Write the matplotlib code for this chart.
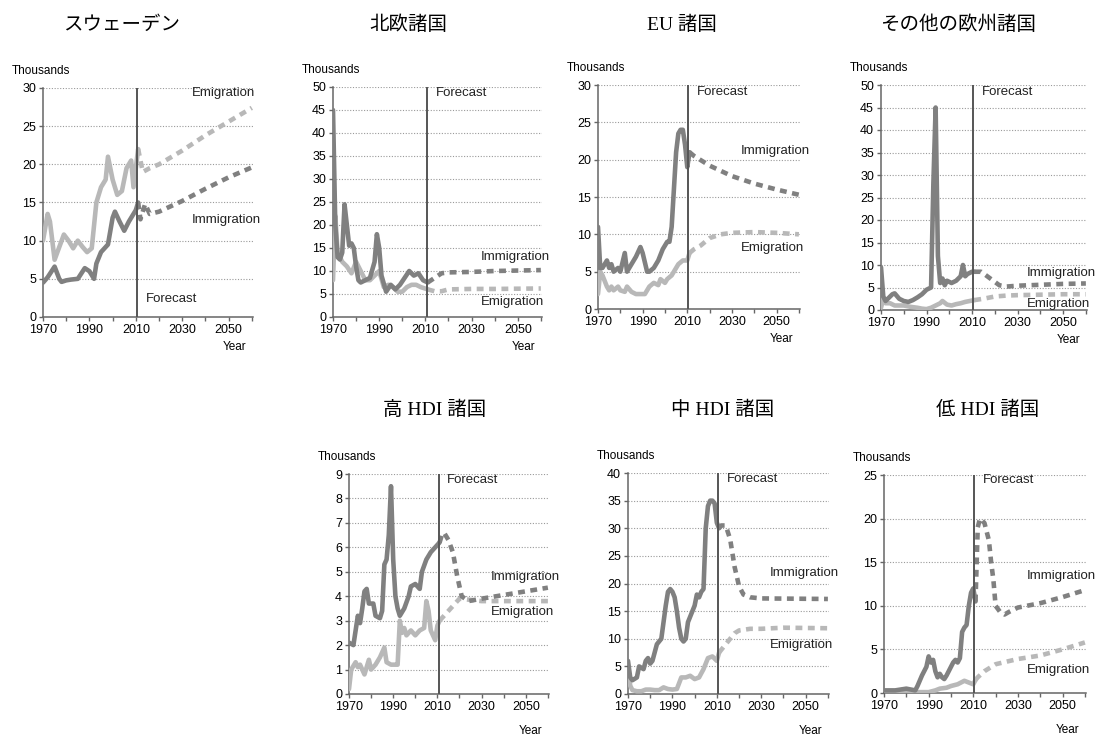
import numpy as np
import matplotlib
matplotlib.use("Agg")
import matplotlib.pyplot as plt

plt.rcParams['font.family'] = ['Liberation Sans', 'Noto Sans CJK JP']

# ---- data (thousands of persons) ----
# Sweden
swe_imm_hist_x = [1970, 1972, 1975, 1977, 1978, 1980, 1982, 1985, 1988, 1990, 1992, 1993, 1995, 1998, 2000, 2001, 2003, 2005, 2007, 2009, 2010, 2011]
swe_imm_hist_y = [4.5, 5.2, 6.6, 5.0, 4.6, 4.8, 4.9, 5.0, 6.4, 6.0, 5.0, 7.0, 8.5, 9.5, 13.0, 13.8, 12.5, 11.3, 12.5, 13.5, 14.0, 15.0]
swe_imm_fc_x = [2011, 2012, 2014, 2016, 2020, 2030, 2040, 2050, 2060]
swe_imm_fc_y = [15.0, 12.8, 14.8, 13.5, 13.8, 15.2, 16.8, 18.3, 19.6]
swe_emi_hist_x = [1970, 1972, 1973, 1975, 1979, 1981, 1983, 1985, 1987, 1989, 1991, 1993, 1995, 1997, 1998, 2000, 2002, 2004, 2006, 2008, 2009, 2011]
swe_emi_hist_y = [10.0, 13.5, 12.5, 7.5, 10.8, 10.0, 9.0, 10.0, 9.2, 8.5, 9.0, 15.0, 17.0, 18.0, 21.0, 18.0, 16.0, 16.5, 19.5, 20.5, 17.0, 22.0]
swe_emi_fc_x = [2011, 2013, 2016, 2020, 2030, 2040, 2050, 2060]
swe_emi_fc_y = [22.0, 19.0, 19.5, 20.0, 21.8, 23.8, 25.6, 27.4]

# Nordic countries
nor_imm_hist_x = [1970, 1971, 1972, 1973, 1974, 1975, 1976, 1977, 1978, 1979, 1980, 1981, 1982, 1984, 1986, 1988, 1989, 1990, 1991, 1993, 1995, 1997, 1999, 2001, 2003, 2005, 2007, 2009, 2011]
nor_imm_hist_y = [45, 20, 13, 12.5, 14, 24.5, 20, 15.5, 16, 15, 11, 8, 7.5, 8, 8.5, 12, 18, 15, 9, 5.5, 7, 6, 7, 8.5, 10, 9, 9.5, 8, 7.5]
nor_imm_fc_x = [2011, 2014, 2017, 2020, 2030, 2040, 2060]
nor_imm_fc_y = [7.5, 8.5, 9.5, 9.7, 9.8, 10.0, 10.2]
nor_emi_hist_x = [1970, 1971, 1972, 1974, 1976, 1978, 1980, 1982, 1984, 1986, 1988, 1990, 1992, 1994, 1996, 1998, 2000, 2002, 2004, 2006, 2008, 2011]
nor_emi_hist_y = [8, 22, 14, 12, 11, 9.5, 12, 10, 8, 8, 9, 10, 6.5, 7, 6.5, 5.5, 5.5, 6.5, 7, 7, 6.5, 6]
nor_emi_fc_x = [2011, 2014, 2017, 2020, 2030, 2040, 2060]
nor_emi_fc_y = [6.0, 5.6, 5.6, 6.0, 6.1, 6.1, 6.2]

# EU countries
eu_imm_hist_x = [1970, 1971, 1972, 1973, 1974, 1975, 1976, 1977, 1979, 1980, 1982, 1983, 1985, 1987, 1989, 1990, 1992, 1993, 1995, 1997, 1999, 2000, 2001, 2002, 2003, 2004, 2005, 2006, 2007, 2008, 2009, 2010, 2011]
eu_imm_hist_y = [11, 5.5, 5.5, 6, 6.5, 5.5, 6, 5, 5.5, 5, 7.5, 5, 6, 7, 8.3, 7.5, 5, 5, 5.5, 6.5, 8, 8.5, 9, 9, 11, 16, 21, 23.5, 24, 24, 22, 19, 21]
eu_imm_fc_x = [2011, 2013, 2020, 2030, 2040, 2050, 2060]
eu_imm_fc_y = [21.0, 20.5, 19.2, 17.8, 16.8, 16.0, 15.3]
eu_emi_hist_x = [1970, 1971, 1972, 1974, 1975, 1976, 1977, 1979, 1980, 1982, 1983, 1985, 1987, 1989, 1991, 1993, 1995, 1997, 1998, 2000, 2001, 2003, 2004, 2006, 2008, 2010, 2011]
eu_emi_hist_y = [2, 5, 4.5, 3, 2.5, 3, 2.5, 3, 2.5, 2.3, 3, 2.3, 2, 2, 2, 3, 3.5, 3.2, 4, 3.5, 4, 4.5, 5, 6, 6.5, 6.5, 7.5]
eu_emi_fc_x = [2011, 2013, 2016, 2020, 2025, 2030, 2040, 2050, 2060]
eu_emi_fc_y = [7.5, 8.0, 8.5, 9.5, 10.0, 10.2, 10.3, 10.2, 10.0]

# Other European countries
oeu_imm_hist_x = [1970, 1971, 1972, 1973, 1975, 1976, 1978, 1980, 1982, 1984, 1986, 1988, 1990, 1992, 1993, 1994, 1995, 1996, 1997, 1998, 1999, 2001, 2003, 2005, 2006, 2007, 2008, 2010, 2011]
oeu_imm_hist_y = [9.5, 3, 2, 2.5, 3.5, 3.7, 2.5, 2, 1.8, 2.2, 2.8, 3.5, 4.5, 5, 28, 45, 12, 6, 7, 5.5, 6.5, 6, 6.5, 7.5, 10, 7.5, 8, 8.5, 8.5]
oeu_imm_fc_x = [2011, 2014, 2018, 2022, 2025, 2030, 2040, 2050, 2060]
oeu_imm_fc_y = [8.5, 8.5, 7.0, 5.5, 5.2, 5.4, 5.6, 5.8, 5.9]
oeu_emi_hist_x = [1970, 1971, 1972, 1974, 1976, 1978, 1980, 1983, 1986, 1988, 1990, 1992, 1994, 1996, 1997, 1999, 2001, 2003, 2005, 2007, 2009, 2011]
oeu_emi_hist_y = [0.5, 2.5, 1.5, 1.5, 1, 1, 1, 0.7, 0.5, 0.3, 0.2, 0.5, 1, 1.5, 2, 1.2, 1, 1.3, 1.5, 1.8, 2, 2.2]
oeu_emi_fc_x = [2011, 2015, 2020, 2025, 2030, 2040, 2050, 2060]
oeu_emi_fc_y = [2.2, 2.5, 3.0, 3.2, 3.3, 3.4, 3.5, 3.5]

# High HDI countries
hhd_imm_hist_x = [1970, 1972, 1974, 1975, 1976, 1977, 1978, 1979, 1981, 1982, 1984, 1985, 1986, 1987, 1988, 1989, 1990, 1991, 1992, 1993, 1995, 1997, 1998, 2000, 2002, 2003, 2005, 2007, 2009, 2011]
hhd_imm_hist_y = [2.1, 2.0, 3.2, 2.9, 3.5, 4.2, 4.3, 3.7, 3.7, 3.2, 3.1, 3.4, 5.3, 5.5, 6.5, 8.5, 5.5, 4.0, 3.5, 3.2, 3.5, 4.0, 4.4, 4.5, 4.3, 5.0, 5.5, 5.8, 6.0, 6.2]
hhd_imm_fc_x = [2011, 2012, 2013, 2015, 2017, 2019, 2021, 2024, 2030, 2040, 2050, 2060]
hhd_imm_fc_y = [6.2, 6.5, 6.6, 6.3, 5.8, 4.8, 4.0, 3.8, 3.9, 4.05, 4.2, 4.35]
hhd_emi_hist_x = [1970, 1971, 1973, 1974, 1975, 1977, 1979, 1980, 1982, 1984, 1986, 1987, 1989, 1991, 1992, 1993, 1994, 1995, 1996, 1998, 2000, 2002, 2004, 2005, 2006, 2007, 2009, 2010, 2011]
hhd_emi_hist_y = [0.2, 1.0, 1.3, 1.1, 1.2, 0.8, 1.4, 1.0, 1.2, 1.5, 1.9, 1.3, 1.2, 1.2, 1.2, 3.0, 2.5, 2.7, 2.4, 2.6, 2.4, 2.6, 2.7, 3.8, 3.4, 2.6, 2.2, 2.8, 3.0]
hhd_emi_fc_x = [2011, 2012, 2015, 2018, 2020, 2025, 2030, 2040, 2060]
hhd_emi_fc_y = [3.0, 3.1, 3.4, 3.7, 3.9, 3.85, 3.8, 3.8, 3.8]

# Medium HDI countries
mhd_imm_hist_x = [1970, 1971, 1972, 1974, 1975, 1977, 1978, 1979, 1980, 1981, 1983, 1985, 1986, 1987, 1988, 1989, 1990, 1991, 1992, 1993, 1994, 1995, 1996, 1997, 1998, 1999, 2000, 2001, 2002, 2003, 2004, 2005, 2006, 2007, 2008, 2009, 2010, 2011]
mhd_imm_hist_y = [6, 3, 2.5, 3, 5, 4.5, 6, 6.5, 5.5, 6, 9, 10, 13, 16, 18.5, 19, 18.5, 17.5, 15, 12, 10, 9.5, 10, 13, 14, 15, 16, 18, 17.5, 18.5, 19, 30, 34, 35, 35, 34.5, 31, 30]
mhd_imm_fc_x = [2011, 2012, 2014, 2016, 2018, 2020, 2022, 2025, 2030, 2060]
mhd_imm_fc_y = [30.0, 30.5, 30.5, 28.0, 23.0, 19.5, 18.0, 17.5, 17.3, 17.2]
mhd_emi_hist_x = [1970, 1971, 1972, 1974, 1976, 1978, 1980, 1982, 1984, 1986, 1988, 1990, 1992, 1994, 1996, 1998, 2000, 2002, 2004, 2006, 2008, 2010, 2011]
mhd_emi_hist_y = [5, 1.5, 0.7, 0.5, 0.5, 0.8, 0.8, 0.7, 0.7, 1.2, 0.9, 0.8, 0.9, 3, 3, 3.3, 2.7, 3, 4.5, 6.5, 6.8, 6, 7.5]
mhd_emi_fc_x = [2011, 2012, 2014, 2016, 2018, 2020, 2025, 2030, 2040, 2060]
mhd_emi_fc_y = [7.5, 8.0, 9.0, 10.0, 11.0, 11.5, 11.8, 11.8, 12.0, 11.9]

# Low HDI countries
lhd_imm_hist_x = [1970, 1975, 1980, 1984, 1985, 1987, 1989, 1990, 1991, 1992, 1993, 1994, 1995, 1996, 1997, 1998, 1999, 2000, 2001, 2002, 2003, 2004, 2005, 2006, 2007, 2008, 2009, 2010, 2011]
lhd_imm_hist_y = [0.3, 0.3, 0.5, 0.3, 0.8, 2.0, 3.0, 4.2, 3.5, 3.8, 2.5, 1.8, 2.2, 1.8, 1.6, 2.0, 2.5, 3.0, 3.5, 3.8, 3.5, 4.0, 7.0, 7.5, 7.8, 10.0, 11.5, 12.0, 10.5]
lhd_imm_fc_x = [2011, 2012, 2013, 2015, 2017, 2018, 2019, 2020, 2022, 2024, 2026, 2030, 2040, 2050, 2060]
lhd_imm_fc_y = [10.5, 19.0, 20.0, 19.5, 17.5, 15.0, 13.0, 10.0, 9.3, 9.0, 9.3, 9.8, 10.3, 11.0, 11.8]
lhd_emi_hist_x = [1970, 1980, 1990, 1993, 1995, 1998, 2000, 2003, 2006, 2008, 2010, 2011]
lhd_emi_hist_y = [0.1, 0.1, 0.1, 0.3, 0.5, 0.6, 0.8, 1.0, 1.4, 1.2, 1.0, 1.5]
lhd_emi_fc_x = [2011, 2012, 2015, 2020, 2025, 2030, 2040, 2050, 2060]
lhd_emi_fc_y = [1.5, 1.8, 2.5, 3.3, 3.6, 3.9, 4.3, 5.0, 5.8]

titles = ['スウェーデン', '北欧諸国', 'EU 諸国', 'その他の欧州諸国', '高 HDI 諸国', '中 HDI 諸国', '低 HDI 諸国']
y_max = [30, 50, 30, 50, 9, 40, 25]
y_step = [5, 5, 5, 5, 1, 5, 5]

series = [
    (swe_imm_hist_x, swe_imm_hist_y, swe_imm_fc_x, swe_imm_fc_y, swe_emi_hist_x, swe_emi_hist_y, swe_emi_fc_x, swe_emi_fc_y),
    (nor_imm_hist_x, nor_imm_hist_y, nor_imm_fc_x, nor_imm_fc_y, nor_emi_hist_x, nor_emi_hist_y, nor_emi_fc_x, nor_emi_fc_y),
    (eu_imm_hist_x, eu_imm_hist_y, eu_imm_fc_x, eu_imm_fc_y, eu_emi_hist_x, eu_emi_hist_y, eu_emi_fc_x, eu_emi_fc_y),
    (oeu_imm_hist_x, oeu_imm_hist_y, oeu_imm_fc_x, oeu_imm_fc_y, oeu_emi_hist_x, oeu_emi_hist_y, oeu_emi_fc_x, oeu_emi_fc_y),
    (hhd_imm_hist_x, hhd_imm_hist_y, hhd_imm_fc_x, hhd_imm_fc_y, hhd_emi_hist_x, hhd_emi_hist_y, hhd_emi_fc_x, hhd_emi_fc_y),
    (mhd_imm_hist_x, mhd_imm_hist_y, mhd_imm_fc_x, mhd_imm_fc_y, mhd_emi_hist_x, mhd_emi_hist_y, mhd_emi_fc_x, mhd_emi_fc_y),
    (lhd_imm_hist_x, lhd_imm_hist_y, lhd_imm_fc_x, lhd_imm_fc_y, lhd_emi_hist_x, lhd_emi_hist_y, lhd_emi_fc_x, lhd_emi_fc_y),
]

# label positions (value axis) for Immigration / Emigration / Forecast
imm_label_y = [12.7, 13.0, 21.1, 8.2, 4.8, 21.9, 13.4]
emi_label_y = [29.3, 3.3, 8.2, 1.3, 3.35, 8.8, 2.6]
fc_label_y = [2.4, 48.6, 29.0, 48.4, 8.75, 38.9, 24.4]

# ---- layout in pixels ----
W, H = 1103, 737
# left, top, right, bottom (pixels)
boxes = [(43, 88, 253, 317), (333, 87, 542, 317), (598, 85, 800, 309), (881, 85, 1087, 310),
         (349, 474, 549, 694), (628, 473, 829, 694), (884, 475, 1086, 693)]
title_pos = [(122, 25), (408, 25), (682, 25), (958, 25), (435, 410), (723, 410), (988, 410)]

IMM = '#808080'
EMI = '#b8b8b8'

fig = plt.figure(figsize=(W / 100, H / 100), dpi=100)

for i in range(7):
    l, t, r, b = boxes[i]
    ax = fig.add_axes([l / W, 1 - b / H, (r - l) / W, (b - t) / H])
    ihx, ihy, ifx, ify, ehx, ehy, efx, efy = series[i]

    ax.plot(ehx, ehy, color=EMI, lw=3.3, solid_capstyle='round', zorder=3)
    ax.plot(efx, efy, color=EMI, lw=3.3, dashes=(1.5, 1.2), zorder=3)
    ax.plot(ihx, ihy, color=IMM, lw=3.3, solid_capstyle='round', zorder=4)
    ax.plot(ifx, ify, color=IMM, lw=3.3, dashes=(1.5, 1.2), zorder=4)

    ax.axvline(2010.5, color='#555555', lw=1.4, zorder=5)

    ax.set_xlim(1970, 2060.5)
    ax.set_ylim(0, y_max[i])
    ax.set_xticks([1970, 1990, 2010, 2030, 2050])
    ax.set_xticks([1980, 2000, 2020, 2040, 2060], minor=True)
    ax.set_yticks(np.arange(0, y_max[i] + 0.01, y_step[i]))
    ax.yaxis.grid(True, linestyle=(0, (1, 1.5)), color='#9a9a9a', lw=0.8)
    ax.set_axisbelow(True)
    for s in ['top', 'right']:
        ax.spines[s].set_visible(False)
    for s in ['left', 'bottom']:
        ax.spines[s].set_color('#666666')
        ax.spines[s].set_linewidth(1.1)
    ax.tick_params(axis='both', which='both', labelsize=9, color='#666666', length=3, width=1, pad=2)

    ax.text(2034, imm_label_y[i], 'Immigration', fontsize=9.5, va='center', ha='left', color='#222222')
    ax.text(2034, emi_label_y[i], 'Emigration', fontsize=9.5, va='center', ha='left', color='#222222')
    ax.text(2014.5, fc_label_y[i], 'Forecast', fontsize=9.5, va='center', ha='left', color='#222222')

    # Thousands / Year captions
    fig.text((l - 31) / W, 1 - (t - 17) / H, 'Thousands', fontsize=8.5, va='center', ha='left')
    year_dy = 30 if t < 200 else 37
    fig.text((r - 18) / W, 1 - (b + year_dy) / H, 'Year', fontsize=8.5, va='center', ha='center')

    tx, ty = title_pos[i]
    fig.text(tx / W, 1 - ty / H, titles[i], fontsize=14, va='center', ha='center',
             family=['Liberation Serif', 'Noto Sans CJK JP'])

fig.savefig('out.png', dpi=100)
